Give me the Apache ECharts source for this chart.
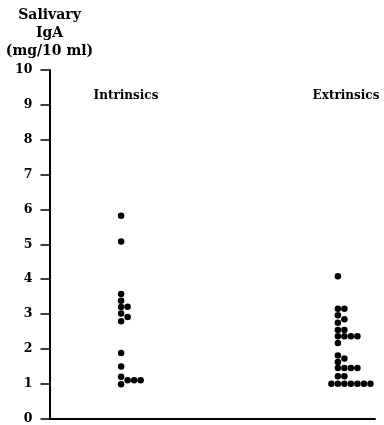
<!DOCTYPE html>
<html><head><meta charset="utf-8">
<script src="https://cdn.jsdelivr.net/npm/echarts@6/dist/echarts.min.js"></script>
<style>html,body{margin:0;padding:0;background:#fff}#c{width:384px;height:425px}</style>
</head><body><div id="c"></div>
<script>
var groups = ['Intrinsics', 'Extrinsics'];
var intrinsics = [5.82, 5.08, 3.57, 3.38, 3.21, 3.20, 3.01, 2.91, 2.79, 1.88, 1.49, 1.20, 1.10, 1.10, 1.10, 0.98];
var extrinsics = [4.08, 3.15, 3.15, 2.96, 2.85, 2.75, 2.54, 2.54, 2.36, 2.36, 2.36, 2.36, 2.17, 1.81, 1.72, 1.62,
                  1.45, 1.45, 1.45, 1.45, 1.21, 1.21, 1.00, 1.00, 1.00, 1.00, 1.00, 1.00, 1.00];
var yTicks = [0, 1, 2, 3, 4, 5, 6, 7, 8, 9, 10];
var yName = 'Salivary\nIgA\n(mg/10 ml)';

// layout: group centres on a hidden 0..100 x scale, slot width for stacked dots
var centers = [22, 88.6];
var slotW = 2.0;
var minGap = 0.16;
var slotOrder = [0, 1, 2, 3, 4, -1, 5, 6, 7];

function swarm(vals, c) {
  var sorted = vals.slice().sort(function (a, b) { return a - b; });
  var placed = [];
  sorted.forEach(function (v) {
    for (var i = 0; i < slotOrder.length; i++) {
      var s = slotOrder[i];
      var ok = placed.every(function (p) { return p.s !== s || Math.abs(p.v - v) >= minGap; });
      if (ok) { placed.push({ s: s, v: v }); break; }
    }
  });
  return placed.map(function (p) { return [c + p.s * slotW, p.v]; });
}

var chart = echarts.init(document.getElementById('c'));
var font = 'DejaVu Serif';
var grpStyle = { fontFamily: font, fontSize: 12, fontWeight: 'bold', color: '#000' };
chart.setOption({
  animation: false,
  grid: { left: 49.5, right: 9, top: 70, bottom: 4 },
  title: [
    { text: groups[0], left: 121, top: 85, textAlign: 'center', textStyle: grpStyle },
    { text: groups[1], left: 341, top: 85, textAlign: 'center', textStyle: grpStyle }
  ],
  xAxis: {
    type: 'value', min: 0, max: 100,
    axisLine: { show: true, onZero: false, lineStyle: { color: '#000', width: 2 } },
    axisTick: { show: false }, axisLabel: { show: false }, splitLine: { show: false }
  },
  yAxis: {
    type: 'value', min: yTicks[0], max: yTicks[yTicks.length - 1], interval: 1,
    name: yName, nameLocation: 'end', nameGap: 10,
    nameTextStyle: { fontFamily: font, fontSize: 14, fontWeight: 'bold', color: '#000',
      align: 'center', lineHeight: 18 },
    axisLine: { show: true, lineStyle: { color: '#000', width: 2 } },
    axisTick: { show: true, inside: false, length: 9, lineStyle: { color: '#000', width: 1.5 } },
    axisLabel: { margin: 17, fontFamily: font, fontSize: 12.5, fontWeight: 'bold', color: '#000' },
    splitLine: { show: false }
  },
  series: [
    { type: 'scatter', name: groups[0], data: swarm(intrinsics, centers[0]), symbolSize: 6.5,
      itemStyle: { color: '#000', opacity: 1 } },
    { type: 'scatter', name: groups[1], data: swarm(extrinsics, centers[1]), symbolSize: 6.5,
      itemStyle: { color: '#000', opacity: 1 } }
  ]
});
</script></body></html>
